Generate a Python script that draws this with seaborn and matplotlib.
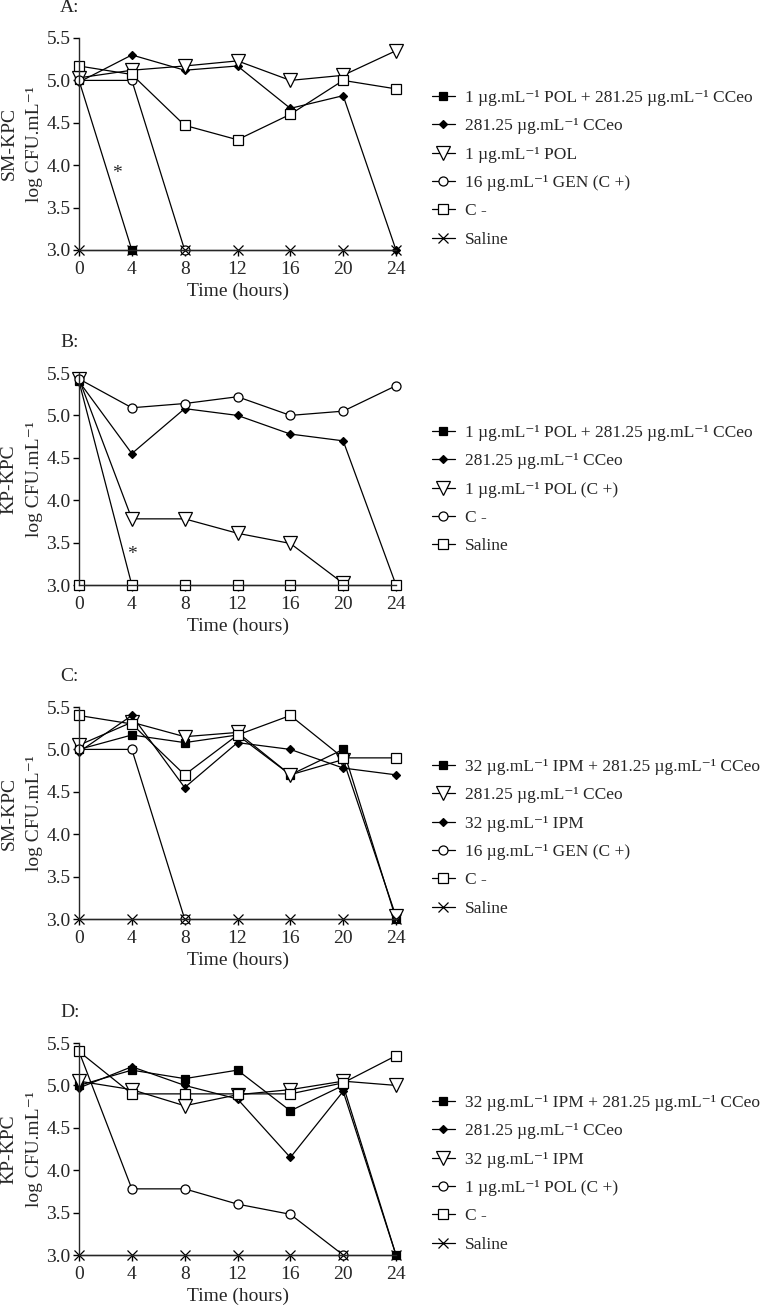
import matplotlib
matplotlib.use('Agg')
import matplotlib.pyplot as plt
import seaborn as sns
import pandas as pd

# --- data (log CFU/mL) ---
hours = [0, 4, 8, 12, 16, 20, 24]

# A: SM-KPC, polymyxin
a_pol_cceo = [5.0, 3.0]
a_cceo = [4.98, 5.30, 5.12, 5.17, 4.67, 4.82, 3.0]
a_pol = [5.03, 5.12, 5.17, 5.23, 5.0, 5.06, 5.35]
a_gen = [5.0, 5.0, 3.0]
a_ctrl = [5.17, 5.07, 4.47, 4.30, 4.60, 5.0, 4.90]
a_saline = [3.0, 3.0, 3.0, 3.0, 3.0, 3.0, 3.0]

# B: KP-KPC, polymyxin
b_pol_cceo = [5.40, 3.0]
b_cceo = [5.40, 4.55, 5.08, 5.0, 4.78, 4.70, 3.0]
b_pol = [5.43, 3.78, 3.78, 3.61, 3.49, 3.02]
b_ctrl = [5.43, 5.09, 5.14, 5.22, 5.0, 5.05, 5.35]
b_saline = [3.0, 3.0, 3.0, 3.0, 3.0, 3.0, 3.0]

# C: SM-KPC, imipenem
c_ipm_cceo = [5.0, 5.17, 5.08, 5.17, 4.70, 5.0, 3.0]
c_cceo = [5.05, 5.32, 5.15, 5.20, 4.70, 4.88, 3.03]
c_ipm = [4.97, 5.40, 4.55, 5.08, 5.0, 4.78, 4.70]
c_gen = [5.0, 5.0, 3.0]
c_ctrl = [5.40, 5.30, 4.70, 5.17, 5.40, 4.90, 4.90]
c_saline = [3.0, 3.0, 3.0, 3.0, 3.0, 3.0, 3.0]

# D: KP-KPC, imipenem
d_ipm_cceo = [5.0, 5.18, 5.08, 5.18, 4.70, 5.0, 3.0]
d_cceo = [4.97, 5.22, 5.0, 4.84, 4.15, 4.93, 3.0]
d_ipm = [5.05, 4.95, 4.76, 4.89, 4.95, 5.05, 5.0]
d_pol = [5.40, 3.78, 3.78, 3.60, 3.48, 3.0]
d_ctrl = [5.40, 4.90, 4.90, 4.90, 4.90, 5.03, 5.35]
d_saline = [3.0, 3.0, 3.0, 3.0, 3.0, 3.0, 3.0]

U = 'µg.mL⁻¹'

# marker styles: (marker, facecolor, size)
FSQ = ('s', 'black', 6)
FDI = ('D', 'black', 4.5)
TRI = ('v', 'white', 10)
CIR = ('o', 'white', 6.5)
OSQ = ('s', 'white', 6.5)
XX = ('x', 'black', 6.5)

panels = [
    ('A:', 'SM-KPC', [
        (a_pol_cceo, FSQ, f'1 {U} POL + 281.25 {U} CCeo'),
        (a_cceo, FDI, f'281.25 {U} CCeo'),
        (a_pol, TRI, f'1 {U} POL'),
        (a_gen, CIR, f'16 {U} GEN (C +)'),
        (a_ctrl, OSQ, 'C -'),
        (a_saline, XX, 'Saline'),
    ], (2.9, 3.9)),
    ('B:', 'KP-KPC', [
        (b_pol_cceo, FSQ, f'1 {U} POL + 281.25 {U} CCeo'),
        (b_cceo, FDI, f'281.25 {U} CCeo'),
        (b_pol, TRI, f'1 {U} POL (C +)'),
        (b_ctrl, CIR, 'C -'),
        (b_saline, OSQ, 'Saline'),
    ], (4.0, 3.36)),
    ('C:', 'SM-KPC', [
        (c_ipm_cceo, FSQ, f'32 {U} IPM + 281.25 {U} CCeo'),
        (c_cceo, TRI, f'281.25 {U} CCeo'),
        (c_ipm, FDI, f'32 {U} IPM'),
        (c_gen, CIR, f'16 {U} GEN (C +)'),
        (c_ctrl, OSQ, 'C -'),
        (c_saline, XX, 'Saline'),
    ], None),
    ('D:', 'KP-KPC', [
        (d_ipm_cceo, FSQ, f'32 {U} IPM + 281.25 {U} CCeo'),
        (d_cceo, FDI, f'281.25 {U} CCeo'),
        (d_ipm, TRI, f'32 {U} IPM'),
        (d_pol, CIR, f'1 {U} POL (C +)'),
        (d_ctrl, OSQ, 'C -'),
        (d_saline, XX, 'Saline'),
    ], None),
]

sns.set_theme(style='ticks')
plt.rcParams['font.family'] = ['Liberation Serif', 'DejaVu Serif']
plt.rcParams['axes.linewidth'] = 1.0
plt.rcParams['xtick.major.width'] = 1.0
plt.rcParams['ytick.major.width'] = 1.0

W, H = 760, 1305
fig = plt.figure(figsize=(W / 100, H / 100), dpi=100)

# axes tops in pixels
tops = [38, 373, 707, 1043]
ax_h = 212
ax_l, ax_w = 79, 317

for (tag, ylab, series, star), top in zip(panels, tops):
    ax = fig.add_axes([ax_l / W, 1 - (top + ax_h) / H, ax_w / W, ax_h / H])
    for vals, (mk, fc, ms), lab in series:
        df = pd.DataFrame({'Time': hours[:len(vals)], 'CFU': vals})
        sns.lineplot(data=df, x='Time', y='CFU', ax=ax, color='black',
                     marker=mk, markerfacecolor=fc, markeredgecolor='black',
                     markersize=ms, markeredgewidth=0.9, linewidth=0.9,
                     clip_on=False, label=lab, legend=False)
    ax.set_xlim(0, 24)
    ax.set_ylim(3.0, 5.5)
    ax.set_xticks(hours)
    ax.set_yticks([3.0, 3.5, 4.0, 4.5, 5.0, 5.5])
    ax.set_yticklabels(['3.0', '3.5', '4.0', '4.5', '5.0', '5.5'])
    ax.tick_params(labelsize=14, length=4, direction='out', color='black')
    ax.tick_params(axis='x', pad=4)
    ax.tick_params(axis='y', pad=2)
    ax.set_xlabel('Time (hours)', fontsize=14, labelpad=3)
    ax.set_ylabel(f'{ylab}\nlog CFU.mL⁻¹', fontsize=14, linespacing=1.7)
    ax.yaxis.set_label_coords(-0.112, 0.5)
    sns.despine(ax=ax)
    ax.text(-0.06, 1.146, tag, transform=ax.transAxes, fontsize=14,
            ha='left', va='center')
    if star:
        ax.text(star[0], star[1], '*', fontsize=14, ha='center', va='center')
    handles, labels = ax.get_legend_handles_labels()
    fig.legend(handles, labels, loc='upper left',
               bbox_to_anchor=(432 / W, 1 - (top + 52) / H),
               frameon=False, fontsize=12.5, handlelength=1.3,
               handletextpad=0.6, labelspacing=0.7, borderpad=0,
               borderaxespad=0)

fig.savefig('out.png', dpi=100)
